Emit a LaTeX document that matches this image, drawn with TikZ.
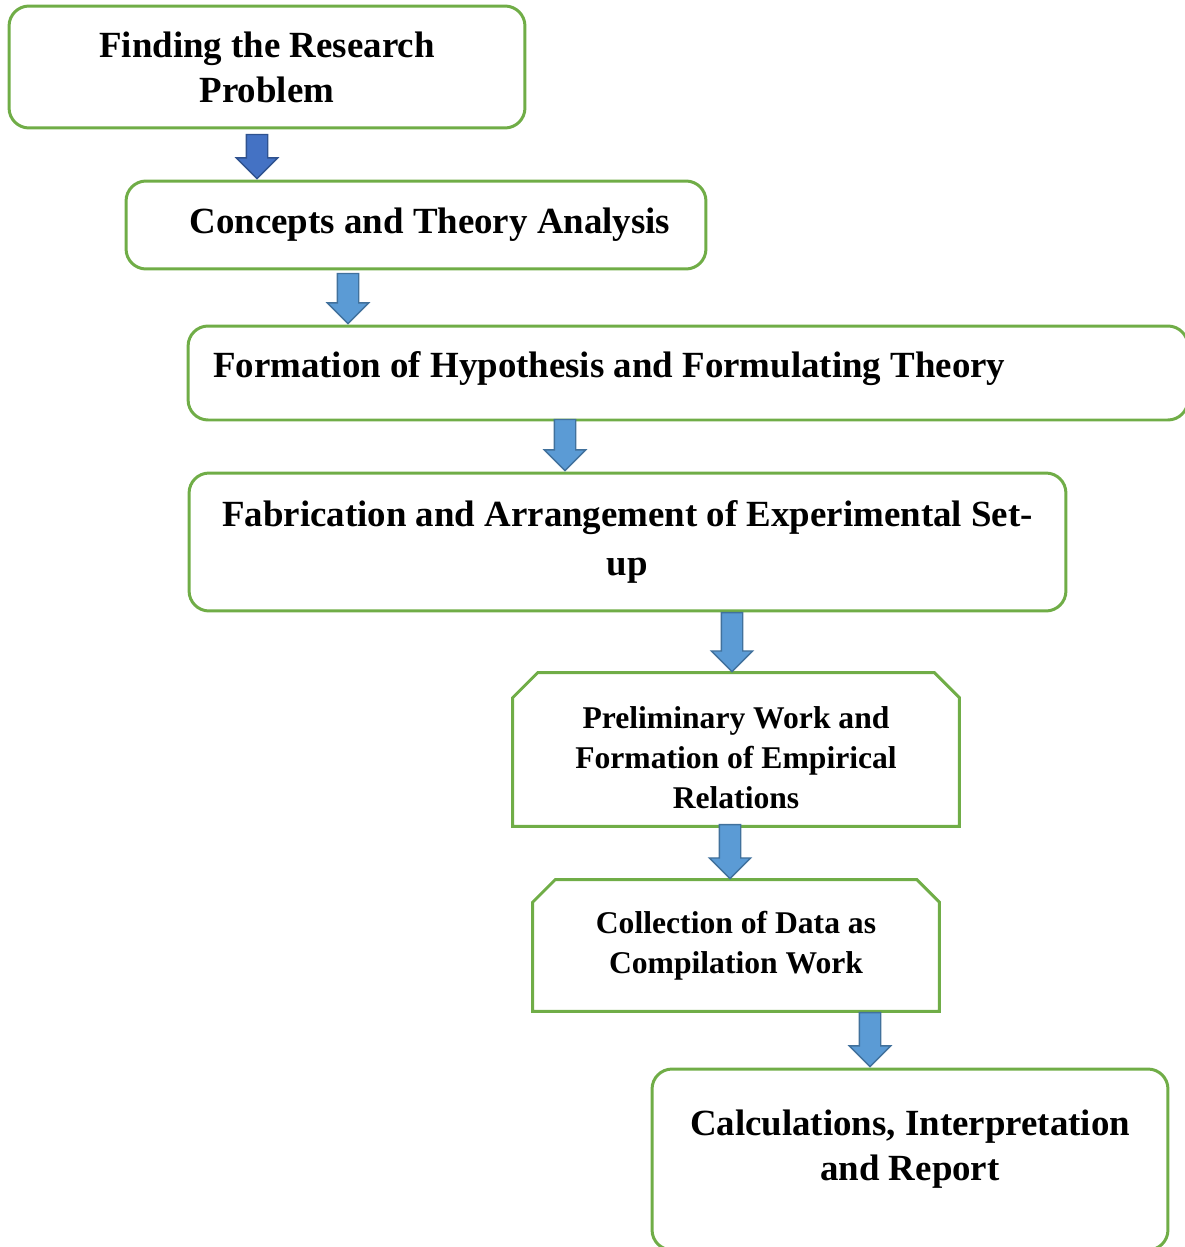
\documentclass[tikz,border=0pt]{standalone}
\usepackage{fontspec}
\setmainfont{Liberation Serif}
\usetikzlibrary{positioning,shapes.arrows}
\definecolor{boxgreen}{HTML}{70AD47}
\definecolor{arrowblue}{HTML}{5B9BD5}
\definecolor{arrowedge}{HTML}{41719C}
\definecolor{firstblue}{HTML}{4472C4}
\definecolor{firstedge}{HTML}{2F528F}
\tikzstyle{stage} = [draw=boxgreen, line width=1.7pt, rectangle, rounded corners=0.4cm, align=center, inner sep=0pt, font=\bfseries\fontsize{21}{25.5}\selectfont]
\tikzstyle{snipped} = [rectangle, align=center, inner sep=0pt, font=\bfseries\fontsize{18}{22.7}\selectfont]
\tikzstyle{outline} = [draw=boxgreen, line width=1.7pt]
\tikzstyle{downarrow} = [single arrow, shape border rotate=270, anchor=tip, draw=arrowedge, fill=arrowblue, line width=0.8pt, inner sep=0.2cm, single arrow head extend=0.2cm]

\begin{document}
\begin{tikzpicture}[x=0.02cm, y=-0.02cm]
    \useasboundingbox (0,0) rectangle (1185,1247);

    % Place nodes
    \node [stage, minimum width=10.32cm, minimum height=2.44cm] (problem) at (267,67) {Finding the Research\\Problem};
    \node [stage, minimum width=11.6cm, minimum height=1.76cm] (concepts) at (416,225) {\hspace*{0.56cm}Concepts and Theory Analysis};
    \node [stage, text width=19cm, inner xsep=0.5cm, align=flush left, minimum height=1.88cm] (hypothesis) at (688,373) {Formation of Hypothesis and Formulating Theory\rule[-0.33cm]{0pt}{0pt}};
    \node [stage, font=\bfseries\fontsize{21}{27.8}\selectfont, minimum width=17.54cm, minimum height=2.76cm] (setup) at (627.5,542) {Fabrication and Arrangement of Experimental Set-\\up};
    \node [snipped, minimum width=8.92cm, minimum height=3.06cm] (prelim) at (736,749.5) {\rule{0pt}{0.76cm}Preliminary Work and\\Formation of Empirical\\Relations};
    \node [snipped, minimum width=8.12cm, minimum height=2.62cm] (collect) at (736,945.5) {Collection of Data as\\Compilation Work};
    \node [stage, minimum width=10.32cm, minimum height=3.62cm] (report) at (910,1159.5) {Calculations, Interpretation\\and Report\rule[-0.58cm]{0pt}{0pt}};

    % Snipped corners
    \draw [outline] (prelim.south west) -- ([yshift=-0.5cm]prelim.north west) -- ([xshift=0.5cm]prelim.north west)
        -- ([xshift=-0.5cm]prelim.north east) -- ([yshift=-0.5cm]prelim.north east) -- (prelim.south east) -- cycle;
    \draw [outline] (collect.south west) -- ([yshift=-0.45cm]collect.north west) -- ([xshift=0.45cm]collect.north west)
        -- ([xshift=-0.45cm]collect.north east) -- ([yshift=-0.45cm]collect.north east) -- (collect.south east) -- cycle;

    % Draw block arrows
    \node [downarrow, draw=firstedge, fill=firstblue, minimum height=0.88cm] (arrow1) at (257,0 |- concepts.north) {};
    \node [downarrow, minimum height=1.0cm] (arrow2) at (348,0 |- hypothesis.north) {};
    \node [downarrow, minimum height=1.02cm] (arrow3) at (565,0 |- setup.north) {};
    \node [downarrow, minimum height=1.18cm] (arrow4) at (732,0 |- prelim.north) {};
    \node [downarrow, minimum height=1.08cm] (arrow5) at (730,0 |- collect.north) {};
    \node [downarrow, minimum height=1.08cm] (arrow6) at (870,0 |- report.north) {};
\end{tikzpicture}
\end{document}
